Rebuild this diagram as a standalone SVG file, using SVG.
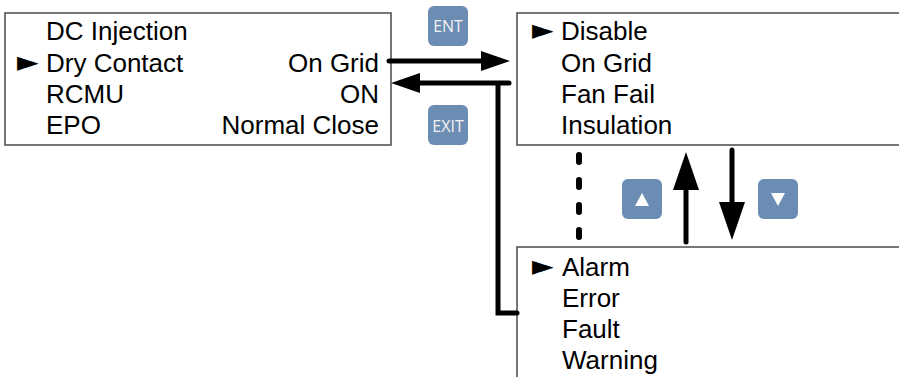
<svg xmlns="http://www.w3.org/2000/svg" width="899" height="377" viewBox="0 0 899 377">
<style>
.box{fill:#fff;stroke:#4a4a4a;stroke-width:1.5}
.t{font-family:"Liberation Sans",Arial,sans-serif;font-size:26px;fill:#000}
.r{text-anchor:end}
.ptr{font-family:"DejaVu Sans",sans-serif;font-size:28px;fill:#000}
.btn{fill:#6b8db3}
.bt{font-family:"Open Sans","DejaVu Sans",sans-serif;font-size:16px;fill:#f2f2f2;text-anchor:middle}
.ln{stroke:#000;stroke-width:5;fill:none;stroke-linecap:round}
.hd{fill:#000}
</style>
<rect width="899" height="377" fill="#fff"/>
<g id="menu-main">
<rect class="box" x="5" y="13" width="386" height="132"/>
<text class="t" x="46" y="40">DC Injection</text>
<text class="ptr" x="17" y="71">►</text>
<text class="t" x="46" y="72">Dry Contact</text>
<text class="t r" x="379" y="72">On Grid</text>
<text class="t" x="46" y="103">RCMU</text>
<text class="t r" x="379" y="103">ON</text>
<text class="t" x="46" y="134">EPO</text>
<text class="t r" x="379" y="134">Normal Close</text>
</g>
<g id="menu-options-top">
<rect class="box" x="517" y="13" width="400" height="132"/>
<text class="ptr" x="532" y="39">►</text>
<text class="t" x="561" y="40">Disable</text>
<text class="t" x="561" y="72">On Grid</text>
<text class="t" x="561" y="103">Fan Fail</text>
<text class="t" x="561" y="134">Insulation</text>
</g>
<g id="menu-options-bottom">
<rect class="box" x="517" y="247" width="400" height="150"/>
<text class="ptr" x="532" y="275">►</text>
<text class="t" x="562" y="276">Alarm</text>
<text class="t" x="562" y="307">Error</text>
<text class="t" x="562" y="338">Fault</text>
<text class="t" x="562" y="369">Warning</text>
</g>
<g id="btn-ent">
<rect class="btn" x="428" y="6" width="40" height="40" rx="6"/>
<text class="bt" x="448" y="31.5">ENT</text>
</g>
<g id="btn-exit">
<rect class="btn" x="428" y="105" width="40" height="40" rx="6"/>
<text class="bt" x="448" y="131.5">EXIT</text>
</g>
<g id="btn-up">
<rect class="btn" x="622" y="179" width="40" height="40" rx="6"/>
<polygon points="642,193 649,206 635,206" fill="#fff"/>
</g>
<g id="btn-down">
<rect class="btn" x="758" y="179" width="40" height="40" rx="6"/>
<polygon points="778,206 785,193 771,193" fill="#fff"/>
</g>
<g id="connectors">
<line class="ln" x1="389" y1="61" x2="485" y2="61"/>
<polygon class="hd" points="481,51 510,61 481,71"/>
<polyline class="ln" points="509,83 416,83"/>
<polygon class="hd" points="420,73 391,83 420,93"/>
<polyline class="ln" points="498,84 498,313 517,313"/>
<line stroke="#000" stroke-width="6" stroke-linecap="round" stroke-dasharray="7 18" x1="579" y1="155" x2="579" y2="240"/>
<line class="ln" stroke-width="6" x1="686" y1="242" x2="686" y2="185"/>
<polygon class="hd" points="686,152 699,190 673,190"/>
<line class="ln" stroke-width="6" x1="732" y1="150" x2="732" y2="206"/>
<polygon class="hd" points="732,240 745,202 719,202"/>
</g>
</svg>
